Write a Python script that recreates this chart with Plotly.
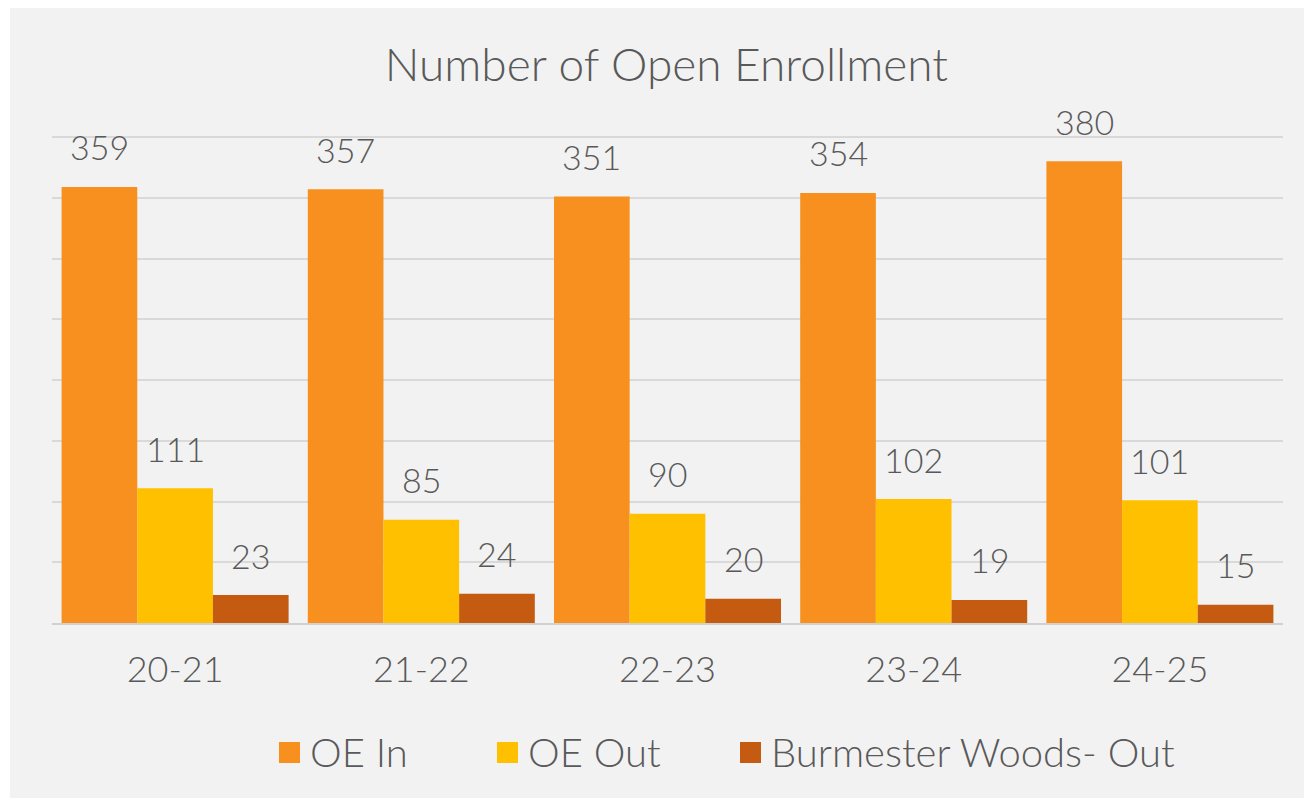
import plotly.graph_objects as go

# Data
years = ["20-21", "21-22", "22-23", "23-24", "24-25"]
oe_in = [359, 357, 351, 354, 380]
oe_out = [111, 85, 90, 102, 101]
burmester_out = [23, 24, 20, 19, 15]

series_names = ["OE In", "OE Out", "Burmester Woods- Out"]
series_values = [oe_in, oe_out, burmester_out]
series_colors = ["#F7901E", "#FFC000", "#C55A11"]

W, H = 1304, 809
Y_MAX = 405
L, R, T, B = 52, 21, 131, 186
FONT = "Lato"
WEIGHT = 300
TEXT_COLOR = "#595959"
BARGAP = 0.078

fig = go.Figure()
for name, vals, col in zip(series_names, series_values, series_colors):
    fig.add_trace(go.Bar(x=years, y=vals, name=name, marker_color=col,
                         marker_line_width=0, showlegend=False))

# Data labels above each bar
bar_w = (1 - BARGAP) / len(series_names)
for k, vals in enumerate(series_values):
    off = (k - (len(series_names) - 1) / 2) * bar_w
    for i, v in enumerate(vals):
        fig.add_annotation(x=i + off, y=v, text=str(v), showarrow=False,
                           xref="x", yref="y", yanchor="middle", yshift=40,
                           font=dict(family=FONT, size=34, weight=WEIGHT,
                                     color=TEXT_COLOR))

pw = W - L - R
ph = H - T - B


def px_x(p):
    return (p - L) / pw


def px_y(p):
    return (H - B - p) / ph


# Chart background panel
fig.add_shape(type="rect", xref="paper", yref="paper",
              x0=px_x(10), x1=px_x(1304), y0=px_y(798), y1=px_y(8),
              fillcolor="#F2F2F2", line_width=0, layer="below")

# Legend drawn as swatches and labels
legend_items = [(279, "OE In"), (497, "OE Out"), (740, "Burmester Woods- Out")]
for (x0, label), col in zip(legend_items, series_colors):
    fig.add_shape(type="rect", xref="paper", yref="paper",
                  x0=px_x(x0), x1=px_x(x0 + 21), y0=px_y(763), y1=px_y(742),
                  fillcolor=col, line_width=0)
    fig.add_annotation(x=px_x(x0 + 29), y=px_y(752), xref="paper", yref="paper",
                       text=label, showarrow=False, xanchor="left", yanchor="middle",
                       font=dict(family=FONT, size=40, weight=WEIGHT,
                                 color=TEXT_COLOR))

fig.update_layout(
    width=W, height=H,
    margin=dict(l=L, r=R, t=T, b=B, pad=0),
    paper_bgcolor="white",
    plot_bgcolor="rgba(0,0,0,0)",
    barmode="group",
    bargap=BARGAP,
    bargroupgap=0,
    title=dict(text="Number of Open Enrollment", x=0.511, xanchor="center",
               y=1 - 65 / H, yanchor="middle",
               font=dict(family=FONT, size=46, weight=WEIGHT, color=TEXT_COLOR)),
    showlegend=False,
    font=dict(family=FONT, color=TEXT_COLOR),
)
fig.update_xaxes(showline=True, linecolor="#D0D0D0", linewidth=2,
                 ticks="", ticklabelstandoff=14,
                 tickfont=dict(family=FONT, size=36, weight=WEIGHT,
                               color=TEXT_COLOR))
fig.update_yaxes(range=[0, Y_MAX], dtick=50, showticklabels=False,
                 showgrid=True, gridcolor="#D9D9D9", gridwidth=2,
                 zeroline=False)

fig.write_html("out.html")
